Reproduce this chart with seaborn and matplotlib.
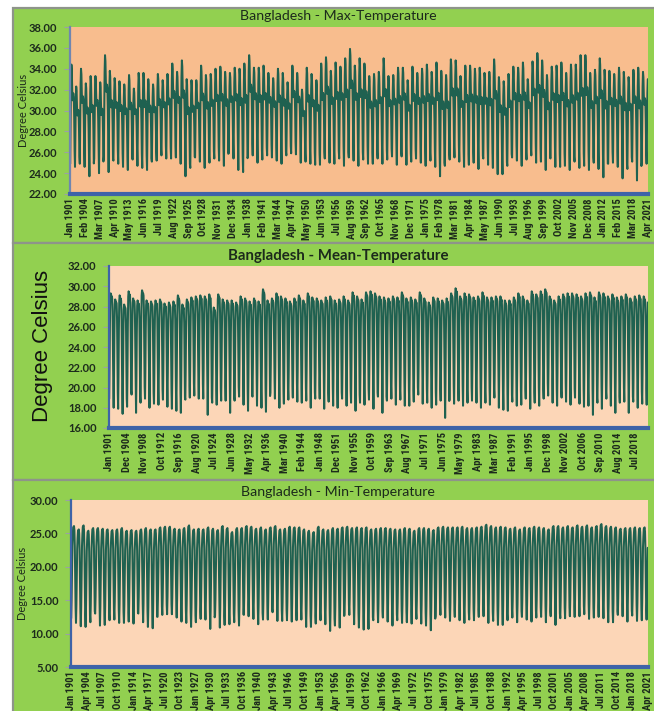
import numpy as np
import pandas as pd
import matplotlib
matplotlib.use("Agg")
import matplotlib.pyplot as plt
from matplotlib.patches import Rectangle
from matplotlib import font_manager
import seaborn as sns

# ---------------------------------------------------------------------------
# Data: Bangladesh monthly temperature, Jan 1901 - Apr 2021
# Seasonal profile per month, and each year's high / low (deg C)
# ---------------------------------------------------------------------------
MONTHS = ["Jan", "Feb", "Mar", "Apr", "May", "Jun",
          "Jul", "Aug", "Sep", "Oct", "Nov", "Dec"]
START_YEAR = 1901
N_MONTHS = 1444  # Jan 1901 .. Apr 2021

max_profile = [25.3, 28.6, 32.5, 33.9, 33.4, 31.7, 30.8, 31.3, 31.4, 31.1, 29.3, 26.4]
mean_profile = [18.4, 21.6, 25.9, 28.5, 29.0, 28.9, 28.5, 28.7, 28.5, 27.2, 23.6, 19.9]
min_profile = [12.0, 14.7, 19.2, 22.9, 24.5, 25.6, 25.7, 25.8, 25.2, 22.8, 17.8, 13.6]

max_high = [
    34.4, 32.3, 34.0, 32.6, 33.3, 33.3, 32.7, 35.3, 33.8, 33.1, 32.8, 32.5, 33.4, 32.1, 33.6, 33.6, 33.0, 32.5, 33.5, 32.9,
    33.5, 34.5, 33.7, 34.8, 33.0, 32.9, 32.9, 34.3, 33.4, 33.5, 34.0, 34.2, 33.7, 33.6, 34.1, 34.0, 34.5, 35.3, 34.1, 34.1,
    34.3, 33.6, 33.1, 34.0, 33.6, 32.7, 34.3, 33.6, 32.0, 34.1, 33.5, 32.9, 34.5, 35.1, 33.8, 34.6, 34.2, 35.0, 35.9, 34.3,
    35.0, 34.5, 33.3, 33.5, 33.7, 35.0, 33.3, 33.4, 34.1, 34.1, 32.9, 34.2, 33.6, 34.0, 34.4, 33.7, 34.6, 33.8, 33.4, 34.9,
    34.8, 33.3, 34.3, 34.3, 34.0, 34.1, 33.6, 33.7, 34.9, 33.2, 32.8, 33.5, 34.2, 34.1, 34.6, 33.0, 34.7, 35.5, 34.8, 33.4,
    34.2, 34.3, 34.6, 33.6, 34.4, 34.4, 35.3, 35.3, 33.6, 33.9, 35.0, 33.9, 33.8, 33.5, 34.1, 33.7, 33.2, 33.9, 34.1, 33.7,
    33.0]
max_low = [
    24.9, 24.6, 24.9, 24.6, 23.7, 25.4, 24.0, 25.6, 24.1, 25.2, 24.9, 24.6, 24.3, 25.3, 24.7, 24.5, 24.3, 25.1, 25.2, 25.7,
    25.4, 25.4, 25.5, 24.9, 23.7, 24.5, 25.5, 25.1, 24.5, 25.0, 25.4, 25.2, 24.7, 25.9, 25.4, 24.3, 24.1, 25.6, 25.7, 25.0,
    25.3, 25.7, 25.5, 25.2, 24.9, 25.7, 25.9, 25.8, 25.0, 25.1, 24.9, 24.8, 24.8, 25.4, 25.0, 24.9, 25.4, 24.7, 25.5, 25.2,
    24.7, 25.3, 24.9, 24.9, 25.4, 24.9, 25.3, 25.6, 24.8, 25.6, 24.8, 25.1, 25.4, 25.0, 24.7, 25.2, 24.6, 23.7, 24.7, 25.3,
    25.5, 25.1, 24.6, 24.8, 25.0, 24.4, 25.4, 24.8, 24.5, 23.9, 23.9, 24.7, 25.5, 25.2, 24.7, 25.3, 25.7, 25.0, 25.1, 24.3,
    25.4, 24.6, 24.6, 24.7, 24.3, 25.1, 24.5, 24.7, 24.3, 25.0, 24.4, 23.6, 24.9, 25.0, 24.6, 23.5, 24.4, 25.1, 23.3, 25.0,
    24.9]

mean_high = [
    29.3, 28.7, 29.1, 28.2, 29.5, 28.8, 28.6, 29.6, 28.6, 28.5, 28.6, 28.7, 28.3, 28.4, 28.5, 29.1, 28.2, 28.7, 28.9, 29.0,
    29.1, 29.0, 29.2, 27.9, 29.2, 28.7, 28.6, 28.6, 28.4, 29.0, 28.8, 28.5, 28.8, 28.5, 29.7, 28.6, 28.8, 29.3, 29.0, 28.8,
    28.5, 28.8, 29.1, 28.6, 29.3, 28.9, 28.8, 28.6, 28.9, 29.0, 28.6, 28.7, 29.0, 28.6, 29.4, 29.0, 28.7, 29.4, 29.5, 29.3,
    29.0, 28.9, 28.8, 29.0, 28.9, 29.4, 28.8, 28.9, 28.7, 29.4, 28.8, 28.4, 28.9, 28.8, 28.6, 28.8, 29.3, 29.8, 29.0, 29.3,
    29.2, 28.9, 29.0, 29.4, 28.9, 28.9, 29.0, 29.0, 28.6, 28.6, 28.9, 29.3, 29.0, 28.6, 29.5, 29.2, 29.5, 29.7, 29.0, 28.6,
    29.0, 29.2, 29.3, 29.3, 29.2, 29.0, 29.3, 29.4, 28.9, 29.4, 29.3, 29.0, 29.2, 28.9, 29.0, 29.2, 28.8, 29.0, 29.1, 29.0,
    28.9]
mean_low = [
    18.9, 18.0, 17.9, 17.4, 18.1, 19.3, 17.5, 18.5, 18.9, 18.0, 18.4, 18.3, 18.8, 18.1, 17.9, 17.7, 17.5, 18.8, 19.0, 19.2,
    18.9, 18.9, 17.3, 18.5, 18.3, 18.7, 18.7, 17.5, 18.7, 19.1, 18.3, 17.7, 19.1, 18.2, 18.0, 17.6, 19.5, 18.9, 18.0, 18.4,
    18.8, 19.0, 18.6, 18.5, 18.7, 18.0, 18.9, 18.9, 17.9, 18.6, 18.2, 18.0, 18.9, 18.2, 18.5, 17.7, 18.5, 18.3, 18.8, 17.9,
    19.1, 17.5, 18.7, 18.9, 18.3, 18.8, 18.2, 18.2, 18.6, 19.3, 18.4, 18.5, 18.0, 18.3, 18.7, 17.0, 18.8, 18.4, 18.7, 18.2,
    18.5, 18.7, 18.5, 18.0, 18.5, 18.3, 19.0, 18.0, 17.8, 17.7, 18.6, 18.2, 18.3, 18.9, 17.9, 18.5, 18.2, 18.9, 19.2, 18.5,
    18.2, 19.0, 18.6, 18.3, 19.0, 18.4, 18.1, 18.2, 17.3, 18.5, 17.9, 18.9, 18.2, 17.5, 18.5, 18.6, 17.5, 18.6, 18.0, 18.4,
    18.3]

min_high = [
    26.1, 25.6, 26.2, 25.4, 25.8, 25.8, 25.7, 25.6, 25.5, 25.6, 25.8, 25.4, 25.5, 25.4, 25.6, 25.8, 25.6, 25.6, 25.9, 26.0,
    26.0, 25.7, 25.6, 25.8, 26.2, 25.6, 25.7, 25.6, 25.9, 25.7, 25.5, 26.1, 25.8, 25.2, 25.8, 25.8, 26.1, 26.0, 25.7, 25.9,
    25.6, 25.9, 26.1, 25.6, 25.7, 26.0, 25.9, 25.9, 25.6, 25.4, 25.2, 26.0, 25.6, 25.5, 25.8, 25.7, 25.9, 26.0, 25.8, 25.9,
    25.8, 25.9, 25.6, 25.7, 25.8, 25.8, 25.7, 25.6, 25.6, 25.8, 25.7, 25.4, 25.8, 25.8, 25.7, 25.5, 25.9, 26.0, 25.9, 25.9,
    25.9, 26.0, 25.8, 25.8, 25.9, 26.0, 26.3, 26.1, 25.9, 26.0, 25.9, 25.7, 25.9, 25.6, 25.9, 25.8, 26.0, 25.9, 25.8, 25.6,
    26.1, 26.1, 25.9, 26.1, 25.9, 26.2, 26.0, 26.2, 25.9, 26.1, 26.4, 26.1, 26.0, 25.9, 25.7, 25.8, 25.8, 25.9, 25.8, 25.9,
    25.7]
min_low = [
    12.3, 11.6, 11.1, 11.0, 11.7, 13.0, 11.2, 11.3, 12.0, 12.1, 11.6, 11.6, 11.8, 11.5, 13.0, 11.7, 11.0, 10.8, 12.5, 12.8,
    12.9, 12.9, 12.4, 11.8, 11.6, 11.0, 11.7, 12.2, 12.1, 10.7, 12.7, 10.9, 11.3, 11.4, 11.7, 11.2, 12.8, 12.6, 12.2, 11.4,
    12.1, 12.1, 13.2, 11.9, 11.9, 12.0, 11.8, 12.0, 12.1, 11.0, 11.0, 11.5, 12.0, 11.4, 10.4, 11.2, 10.9, 12.8, 12.8, 11.4,
    10.9, 10.6, 10.7, 12.0, 11.7, 12.4, 11.8, 11.2, 12.0, 11.6, 11.7, 11.5, 12.2, 11.5, 11.2, 10.5, 12.6, 12.8, 12.4, 11.9,
    12.5, 12.0, 11.6, 12.1, 12.0, 12.5, 12.6, 11.6, 11.9, 11.3, 11.3, 12.0, 12.4, 11.7, 12.5, 12.1, 11.8, 12.4, 12.5, 11.7,
    12.6, 11.3, 12.3, 12.3, 12.6, 12.5, 12.6, 12.9, 12.2, 12.4, 12.5, 12.3, 11.7, 11.7, 12.8, 12.6, 11.8, 12.7, 11.9, 12.0,
    12.1]

titles = ["Bangladesh - Max-Temperature",
          "Bangladesh - Mean-Temperature",
          "Bangladesh - Min-Temperature"]
y_ranges = [(22, 38, 2), (16, 32, 2), (5, 30, 5)]
label_steps = [37, 47, 39]   # months between category labels


def pick_font(candidates):
    names = {f.name for f in font_manager.fontManager.ttflist}
    for c in candidates:
        if c in names:
            return c
    return "DejaVu Sans"


NARROW = pick_font(["Liberation Sans Narrow", "Roboto Condensed", "Open Sans Condensed", "Liberation Sans"])
BODY = pick_font(["Lato", "Open Sans", "Noto Sans"])
ARIALISH = pick_font(["Liberation Sans Narrow", "Liberation Sans"])


def monthly_series(profile, highs, lows):
    prof = np.asarray(profile, float)
    shape = (prof - prof.min()) / (prof.max() - prof.min())
    vals = []
    for i in range(N_MONTHS):
        y, m = divmod(i, 12)
        vals.append(lows[y] + (highs[y] - lows[y]) * shape[m])
    return np.array(vals)


frames = []
for name, prof, hi, lo in [("max", max_profile, max_high, max_low),
                           ("mean", mean_profile, mean_high, mean_low),
                           ("min", min_profile, min_high, min_low)]:
    frames.append(pd.DataFrame({"month": np.arange(N_MONTHS),
                                "temp": monthly_series(prof, hi, lo),
                                "series": name}))

sns.set_theme(style="white")
plt.rcParams["font.family"] = [BODY, "DejaVu Sans"]

W, H = 654, 711
fig = plt.figure(figsize=(W / 100, H / 100), dpi=100)
fig.patch.set_facecolor("white")

GREEN = "#92D050"
BORDER = "#8E948A"
LINE = "#1F6150"
AXBLUE = "#3E63A8"
TXT = "#1C2A1C"

# panel boxes (pixel rows from the top)
boxes = [(8, 243), (243, 480), (480, 713)]
for top, bot in boxes:
    fig.patches.append(Rectangle((13 / W, 1 - bot / H), 1 - 13 / W + 0.01, (bot - top) / H,
                                 transform=fig.transFigure, facecolor=GREEN,
                                 edgecolor=BORDER, linewidth=1.6, zorder=-10))

# axes rectangles in pixels: left, top, right, bottom
ax_px = [(70, 27, 648, 194), (109, 266, 648, 428), (71, 500, 648, 667)]
plot_bg = ["#F8BD8E", "#FCD6B7", "#FCD6B7"]
title_y = [16, 256, 492]
title_bold = [False, True, False]
title_size = [10.2, 10.8, 10.2]

for k, (l, t, r, b) in enumerate(ax_px):
    ax = fig.add_axes([l / W, 1 - b / H, (r - l) / W, (b - t) / H])
    ax.set_zorder(5)
    ax.set_facecolor(plot_bg[k])
    sns.lineplot(data=frames[k], x="month", y="temp", ax=ax, color=LINE,
                 linewidth=1.45, legend=False)
    lo_, hi_, st = y_ranges[k]
    ax.set_ylim(lo_, hi_)
    ax.set_xlim(-0.5, N_MONTHS - 0.5)
    ticks = np.arange(lo_, hi_ + 0.01, st)
    ax.set_yticks(ticks)
    ax.set_yticklabels([f"{v:.2f}" for v in ticks], fontsize=8, fontweight="bold",
                       color=TXT, family=[BODY, "DejaVu Sans"])
    pos = np.arange(0, N_MONTHS, label_steps[k])
    ax.set_xticks(pos)
    ax.set_xticklabels([f"{MONTHS[p % 12]} {START_YEAR + p // 12}" for p in pos],
                       rotation=90, fontsize=7.6, fontweight="bold", color=TXT,
                       family=[NARROW, "DejaVu Sans"])
    ax.tick_params(axis="x", length=0, pad=3)
    ax.tick_params(axis="y", length=4, width=0.8, color="#9AA0A6", pad=5, left=True)
    for s in ["top", "right"]:
        ax.spines[s].set_visible(False)
    ax.spines["bottom"].set_color(AXBLUE)
    ax.spines["bottom"].set_linewidth(3)
    ax.spines["left"].set_color("#6F86B0" if k == 0 else AXBLUE)
    ax.spines["left"].set_linewidth(1.6)
    ax.set_xlabel("")
    ax.set_ylabel("")
    ax.grid(False)
    fig.text(338 / W, 1 - title_y[k] / H, titles[k], ha="center", va="center",
             fontsize=title_size[k], fontweight="bold" if title_bold[k] else "normal",
             color=TXT, family=[BODY, "DejaVu Sans"])

# y-axis titles
fig.text(24 / W, 1 - 110 / H, "Degree Celsius", rotation=90, ha="center", va="center",
         fontsize=8, color=TXT, family=[BODY, "DejaVu Sans"])
fig.text(43 / W, 1 - 346 / H, "Degree Celsius", rotation=90, ha="center", va="center",
         fontsize=16, color="#111111", family=[ARIALISH, "DejaVu Sans"])
fig.text(23 / W, 1 - 583 / H, "Degree Celsius", rotation=90, ha="center", va="center",
         fontsize=8, color=TXT, family=[BODY, "DejaVu Sans"])

fig.savefig("out.png", dpi=100, facecolor=fig.get_facecolor())
